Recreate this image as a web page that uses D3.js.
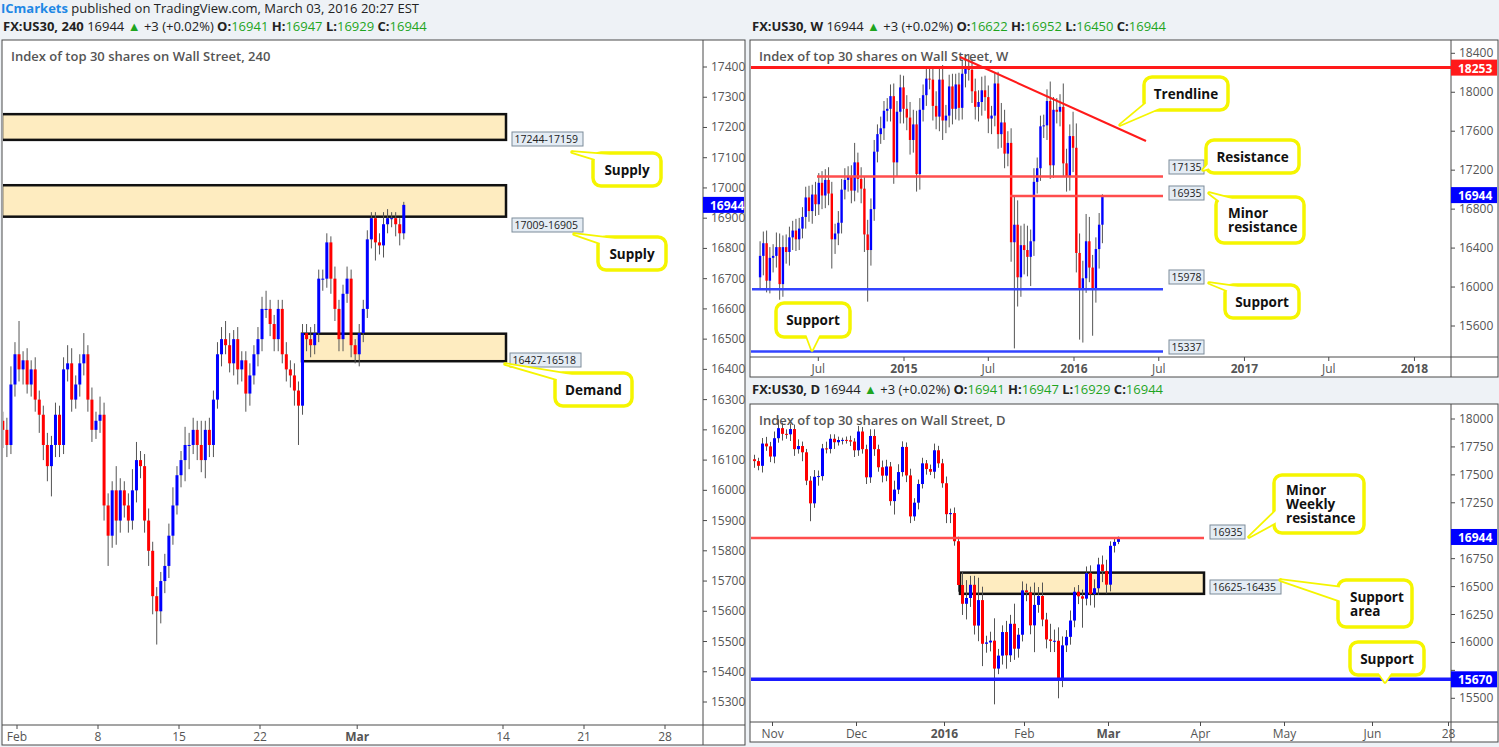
<!DOCTYPE html>
<html><head><meta charset="utf-8">
<script src="https://cdn.jsdelivr.net/npm/d3@7"></script>
<style>
body{margin:0;background:#eef2f6;font-family:"Open Sans","Liberation Sans",sans-serif;}
text{font-family:"Open Sans","Liberation Sans",sans-serif;}
</style></head><body>
<script>
// ---------- Data ----------
// 4h closes, Jan 29 .. Mar 3 (4 bars per day)
var h4Close = [16200,16150,16350,16450, 16400,16430,16350,16400, 16300,16250,16150,16080,
  16150,16250,16150,16400, 16420,16300,16350,16420, 16450,16300,16200,16230,
  16250,15950,15850,16000, 15900,16000,15950,15900, 16000,16100,16080,15900,
  15800,15650,15600,15700, 15750,15850,15950,16050, 16100,16150,16150,16200,
  16150,16100,16200,16150, 16300,16450,16500,16480, 16420,16500,16400,16430,
  16320,16380,16450,16500, 16600,16600,16550,16500, 16600,16450,16400,16380,
  16330,16280,16520,16500, 16480,16520,16700,16700, 16820,16700,16600,16500,
  16650,16700,16480,16450, 16520,16600,16830,16900, 16820,16810,16880,16900,
  16900,16880,16850,16944];
var h4Up = [30,40,60,40, 110,30,40,30, 40,30,30,40, 30,40,30,40, 60,50,30,30, 70,30,40,30,
  60,40,40,30, 80,40,30,40, 70,60,30,40, 40,30,30,30, 40,40,60,30, 30,60,40,40,
  30,80,30,40, 30,40,40,60, 40,30,40,30, 30,40,30,40, 40,60,30,30, 30,30,40,30,
  40,30,30,30, 40,30,30,30, 30,20,40,30, 30,40,30,20, 30,30,30,20, 20,30,40,30, 20,20,20,10];
var h4Dn = [60,40,30,40, 40,50,30,40, 40,60,50,50, 100,40,40,30, 40,40,30,40, 40,40,40,30,
  40,50,100,40, 80,40,40,40, 30,40,40,40, 50,60,110,40, 40,40,30,30, 40,70,80,30,
  50,40,60,40, 40,30,40,30, 30,40,50,40, 60,40,30,40, 40,30,40,40, 40,30,40,40,
  50,130,30,40, 40,30,30,40, 30,50,40,40, 40,30,40,30, 40,30,30,30, 60,30,40,30, 30,40,40,20];
var h4Start = 16230;

// weekly closes, week of Feb 24 2014 .. Feb 29 2016
var wkClose = [16320,16450,16065,16300,16320,16410,16030,16410,16360,16510,16580,16490,16600,16720,
  16920,16780,16950,16850,17070,16940,17100,16960,16490,16550,16660,17000,17100,17140,16990,17280,
  17110,17010,16540,16380,16800,17390,17570,17630,17810,17830,17960,17280,17800,18050,17830,
  17740,17510,17670,17160,17820,17970,18140,18130,17860,17750,18130,17710,17760,18060,17830,18080,
  17840,18190,18270,18230,18010,17850,17900,18020,17950,17730,17760,18090,17570,17690,17370,17480,
  16460,16640,16100,16430,16380,16310,16470,17080,17220,17650,17660,17910,17250,17820,17800,17850,
  17270,17130,17550,17430,16350,15990,16090,16470,16200,15970,16390,16640,16944];
var wkUp = [150,120,130,110,120,150,140,120,130,110,100,120,110,100,110,120,100,130,100,120,110,130,120,
  100,120,110,120,100,110,200,100,120,120,150,110,120,100,120,100,110,120,130,110,130,120,
  140,160,150,140,120,110,100,120,110,150,120,150,110,120,130,110,120,140,100,120,110,130,120,140,
  150,120,100,110,120,200,130,120,150,300,250,200,220,250,120,140,110,110,110,120,200,130,120,
  130,240,150,120,250,250,200,180,280,250,130,120,120,8];
var wkDn = [130,200,120,130,150,120,160,130,120,140,130,120,110,100,120,110,130,120,110,140,130,120,300,
  150,120,110,100,120,130,110,140,150,180,530,160,120,110,100,120,110,130,220,150,120,150,
  130,150,130,180,160,120,110,100,150,130,150,200,130,120,160,110,130,120,140,110,120,130,150,140,
  140,150,160,110,150,140,150,130,200,1090,300,200,250,200,300,150,120,130,120,150,140,130,
  120,150,140,150,140,250,200,530,560,150,150,470,130,200,190];
var wkStart = 16100;

// daily closes, Oct 26 2015 .. Mar 3 2016 (weekdays, no Dec 25 / Jan 1)
var dyClose = [17623,17581,17780,17755,17664,
  17828,17918,17867,17863,17910,17730,17758,17702,17448,17245,17483,17489,17737,17732,17823,
  17792,17812,17813,17810,17798,17720,
  17888,17730,17478,17848,17730,17568,17493,17575,17265,17368,17525,17750,17495,17128,
  17251,17418,17603,17552,17528,17720,17603,17425,
  17148,17158,16906,16514,16346,16398,16516,16151,16379,15988,16000,16016,15766,15882,16093,
  15885,16167,15944,16069,16466,
  16449,16153,16336,16416,16205,16027,16014,16015,15660,15974,16050,16196,16454,16413,16392,
  16620,16432,16485,16698,16640,16517,16865,16900,16944];
var dyUp = [40,30,50,60,40, 60,80,50,40,50,40,60,40,30,40,60,50,40,60,40, 40,30,20,30,40,30,
  50,40,40,60,60,40,60,60,40,80,70,50,40,60, 40,40,50,30,40,60,40,40,
  60,40,50,40,120,160,80,80,200,120,60,80,200,60,60, 100,80,180,60,80,
  60,50,200,80,120,60,140,100,120,80,60,90,40,60,60, 60,70,80,60,80,100,40,30,3];
var dyDn = [60,40,60,40,50, 60,40,60,40,60,60,40,80,40,160,40,80,40,40,40, 60,30,40,30,40,60,
  50,40,60,50,60,40,60,50,40,120,40,40,60,60, 40,60,40,50,30,60,40,40,
  80,80,40,60,100,140,80,80,140,200,80,80,320,50,80, 120,60,100,80,60,
  80,80,240,70,60,80,100,100,160,60,60,70,60,70,260, 60,100,120,60,100,80,60,60,20];
var dyStart = 17640;

// ---------- Layout ----------
var W = 1499, H = 747;
var svg = d3.select("body").append("svg").attr("width", W).attr("height", H)
  .style("display", "block");
svg.append("rect").attr("width", W).attr("height", H).attr("fill", "#eef2f6");

var upCol = "#0000ff", dnCol = "#ff0000", wickCol = "#555";

// header lines
function header(x, y, parts) {
  var t = svg.append("text").attr("x", x).attr("y", y).attr("font-size", 13);
  parts.forEach(function(p) {
    t.append("tspan").text(p[0]).attr("fill", p[1]).attr("font-weight", p[2] ? "bold" : "normal");
  });
}
header(1, 13, [["ICmarkets", "#1e88e5", true], [" published on TradingView.com, March 03, 2016 20:27 EST", "#222"]]);
function quote(x, y, tf, o, h, l, c) {
  header(x, y, [["FX:US30, " + tf, "#222", true], ["  16944 ", "#222"], ["\u25B2", "#1fa51f"], [" +3 (+0.02%) ", "#222"],
    ["O:", "#222", true], [o, "#1fa51f"], [" H:", "#222", true], [h, "#1fa51f"],
    [" L:", "#222", true], [l, "#1fa51f"], [" C:", "#222", true], [c, "#1fa51f"]]);
}
quote(3, 31, "240", "16941", "16947", "16929", "16944");
quote(752, 31, "W", "16622", "16952", "16450", "16944");
quote(752, 394, "D", "16941", "16947", "16929", "16944");

// panel frame + axes
function panel(p) {
  svg.append("rect").attr("x", p.x0).attr("y", p.y0).attr("width", p.x1 - p.x0).attr("height", p.y1 - p.y0)
    .attr("fill", "#fff").attr("stroke", "#4a4a4a");
  var g = svg.append("g");
  g.append("line").attr("x1", p.ax).attr("x2", p.ax).attr("y1", p.y0).attr("y2", p.y1).attr("stroke", "#4a4a4a");
  g.append("line").attr("x1", p.x0).attr("x2", p.x1).attr("y1", p.pb).attr("y2", p.pb).attr("stroke", "#4a4a4a");
  p.yTicks.forEach(function(v) {
    var y = p.y(v);
    g.append("line").attr("x1", p.ax).attr("x2", p.ax + 4).attr("y1", y).attr("y2", y).attr("stroke", "#4a4a4a");
    // labels hidden behind the coloured price tags
    var hidden = p.tags.some(function(t) { return Math.abs(p.y(t) - y) < 13; });
    if (!hidden) g.append("text").attr("x", p.ax + 8).attr("y", y + 4).attr("font-size", 12).attr("fill", "#555").text(v);
  });
  p.xTicks.forEach(function(t) {
    g.append("line").attr("x1", t[0]).attr("x2", t[0]).attr("y1", p.pb).attr("y2", p.pb + 4).attr("stroke", "#4a4a4a");
    g.append("text").attr("x", t[0]).attr("y", p.pb + 16).attr("font-size", 12).attr("fill", "#555")
      .attr("text-anchor", "middle").attr("font-weight", t[2] ? "bold" : "normal").text(t[1]);
  });
  svg.append("text").attr("x", p.x0 + 9).attr("y", p.y0 + 21).attr("font-size", 13).attr("font-weight", 600)
    .attr("fill", "#555").text(p.title);
  var clipId = "c" + p.x0 + "_" + p.y0;
  svg.append("clipPath").attr("id", clipId).append("rect").attr("x", p.x0 + 1).attr("y", p.y0 + 1)
    .attr("width", p.ax - p.x0 - 1).attr("height", p.pb - p.y0 - 1);
  p.plot = svg.append("g").attr("clip-path", "url(#" + clipId + ")");
  return p;
}

function candles(p, closes, ups, dns, start, xf, bw) {
  var prev = start;
  closes.forEach(function(c, i) {
    var o = prev, hi = Math.max(o, c) + ups[i], lo = Math.min(o, c) - dns[i];
    var x = xf(i), col = c >= o ? upCol : dnCol;
    p.plot.append("line").attr("x1", x).attr("x2", x).attr("y1", p.y(hi)).attr("y2", p.y(lo)).attr("stroke", wickCol);
    var y1 = p.y(Math.max(o, c)), y2 = p.y(Math.min(o, c));
    p.plot.append("rect").attr("x", x - bw / 2).attr("y", y1).attr("width", bw).attr("height", Math.max(1, y2 - y1))
      .attr("fill", col);
    prev = c;
  });
}

function zone(p, xa, xb, top, bot) {
  p.plot.append("rect").attr("x", xa).attr("y", p.y(top)).attr("width", xb - xa).attr("height", p.y(bot) - p.y(top))
    .attr("fill", "#feecc0").attr("stroke", "#111").attr("stroke-width", 2.5);
}
function hline(p, v, xa, xb, col, w) {
  p.plot.append("line").attr("x1", xa).attr("x2", xb).attr("y1", p.y(v)).attr("y2", p.y(v))
    .attr("stroke", col).attr("stroke-width", w);
}
function tag(x, y, txt) {
  var w = txt.length * 6.0 + 5;
  svg.append("rect").attr("x", x).attr("y", y - 7).attr("width", w).attr("height", 14)
    .attr("fill", "#e4ecf4").attr("stroke", "#7d8c9a");
  svg.append("text").attr("x", x + 2.5).attr("y", y + 4).attr("font-size", 10.5).attr("fill", "#222").text(txt);
}
function axisTag(p, v, col) {
  var y = p.y(v);
  svg.append("rect").attr("x", p.ax).attr("y", y - 8).attr("width", p.x1 - p.ax - 1).attr("height", 16).attr("fill", col);
  svg.append("text").attr("x", p.ax + 7).attr("y", y + 5).attr("font-size", 12).attr("font-weight", "bold")
    .attr("fill", "#fff").text(v);
}
function callout(x, y, w, h, tail, lines) {
  var g = svg.append("g");
  var tri = tail.map(function(d) { return d.join(","); }).join(" ");
  g.append("polygon").attr("points", tri).attr("fill", "#fff").attr("stroke", "#f5f500").attr("stroke-width", 3.5)
    .attr("stroke-linejoin", "round");
  g.append("rect").attr("x", x).attr("y", y).attr("width", w).attr("height", h).attr("rx", 8)
    .attr("fill", "#fff").attr("stroke", "#f5f500").attr("stroke-width", 3.5);
  g.append("polygon").attr("points", tri).attr("fill", "#fff");
  var lh = 14, y0 = y + h / 2 - (lines.length - 1) * lh / 2 + 5;
  lines.forEach(function(l, i) {
    g.append("text").attr("x", lines.length > 1 ? x + 12 : x + w / 2).attr("y", y0 + i * lh)
      .attr("text-anchor", lines.length > 1 ? "start" : "middle")
      .attr("font-size", 13.5).attr("font-weight", "bold").attr("fill", "#111").text(l);
  });
}

// ---------- 240 panel ----------
var xL = d3.scaleLinear().domain([0, 5]).range([17, 98]);   // trading-day index
var pL = {x0: 2, y0: 40, x1: 745, y1: 745, ax: 703, pb: 725, tags: [16944],
  title: "Index of top 30 shares on Wall Street, 240",
  y: d3.scaleLinear().domain([15300, 17400]).range([702, 67]),
  yTicks: d3.range(15300, 17401, 100)};
pL.xTicks = [[xL(0), "Feb"], [xL(5), "8"], [xL(10), "15"], [xL(15), "22"], [xL(21), "Mar", true],
  [xL(30), "14"], [xL(35), "21"], [xL(40), "28"]];
panel(pL);
zone(pL, 2, 506, 17244, 17159);
zone(pL, 2, 506, 17009, 16905);
zone(pL, 302, 506, 16518, 16427);
candles(pL, h4Close, h4Up, h4Dn, h4Start, function(i) { return xL(-1 + (i + 0.5) / 4); }, 3);
tag(512, 139, "17244-17159");
tag(512, 225, "17009-16905");
tag(510, 360, "16427-16518");
axisTag(pL, 16944, "#0000ff");
callout(593, 153, 68, 33, [[598, 160], [572, 152], [610, 155]], ["Supply"]);
callout(598, 237, 68, 33, [[603, 244], [574, 234], [615, 239]], ["Supply"]);
callout(555, 373, 77, 33, [[560, 380], [505, 364], [572, 375]], ["Demand"]);

// ---------- weekly panel ----------
var xW = d3.scaleTime().domain([new Date(2015, 0, 1), new Date(2016, 0, 1)]).range([904, 1074]);
var pW = {x0: 750, y0: 40, x1: 1498, y1: 377, ax: 1451, pb: 357, tags: [18253, 16944],
  title: "Index of top 30 shares on Wall Street, W",
  y: d3.scaleLinear().domain([15600, 18400]).range([326, 53.3]),
  yTicks: d3.range(15600, 18401, 400)};
pW.xTicks = [[xW(new Date(2014, 6, 1)), "Jul"], [xW(new Date(2015, 0, 1)), "2015", true], [xW(new Date(2015, 6, 1)), "Jul"],
  [xW(new Date(2016, 0, 1)), "2016", true], [xW(new Date(2016, 6, 1)), "Jul"], [xW(new Date(2017, 0, 1)), "2017", true],
  [xW(new Date(2017, 6, 1)), "Jul"], [xW(new Date(2018, 0, 1)), "2018", true]];
panel(pW);
var wkFirst = new Date(2014, 1, 24);
candles(pW, wkClose, wkUp, wkDn, wkStart, function(i) {
  return xW(d3.timeDay.offset(wkFirst, i * 7 + 2)); }, 2.4);
hline(pW, 18253, 750, 1451, "#ff1a1a", 3);
hline(pW, 17135, 817, 1163, "#ff4d4d", 2.5);
hline(pW, 16935, 1010, 1163, "#ff4d4d", 2.5);
hline(pW, 15978, 752, 1163, "#3344ff", 2.5);
hline(pW, 15337, 751, 1163, "#3344ff", 2.5);
pW.plot.append("line").attr("x1", 960).attr("y1", 57).attr("x2", 1146).attr("y2", 141)
  .attr("stroke", "#ff1a1a").attr("stroke-width", 2);
tag(1169, 167, "17135");
tag(1169, 193, "16935");
tag(1169, 277, "15978");
tag(1169, 347, "15337");
axisTag(pW, 18253, "#ff1a1a");
axisTag(pW, 16944, "#0000ff");
callout(1144, 77, 84, 33, [[1150, 100], [1120, 125], [1162, 107]], ["Trendline"]);
callout(1206, 140, 93, 33, [[1210, 162], [1203, 170], [1210, 168]], ["Resistance"]);
callout(1216, 197, 88, 46, [[1222, 203], [1209, 193], [1236, 200]], ["Minor", "resistance"]);
callout(1225, 285, 74, 33, [[1231, 292], [1209, 283], [1245, 288]], ["Support"]);
callout(776, 303, 74, 34, [[806, 334], [812, 350], [820, 334]], ["Support"]);

// ---------- daily panel ----------
// weekday index from Oct 26 2015, skipping Dec 25 and Jan 1
var days = d3.timeDay.range(new Date(2015, 9, 26), new Date(2016, 6, 10)).filter(function(d) {
  var k = d.getDay(), s = d3.timeFormat("%m%d")(d);
  return k > 0 && k < 6 && s !== "1225" && s !== "0101";
});
var fmt = d3.timeFormat("%Y%m%d");
function dayIdx(dt) { var s = fmt(dt); return days.findIndex(function(d) { return fmt(d) >= s; }); }
var xD = d3.scaleLinear().domain([0, 1]).range([752.5, 756.5]);
var pD = {x0: 750, y0: 404, x1: 1498, y1: 742, ax: 1451, pb: 722, tags: [16944, 15670],
  title: "Index of top 30 shares on Wall Street, D",
  y: d3.scaleLinear().domain([15500, 18000]).range([698.3, 419]),
  yTicks: d3.range(15500, 18001, 250)};
pD.xTicks = [[new Date(2015, 10, 2), "Nov"], [new Date(2015, 11, 1), "Dec"], [new Date(2016, 0, 4), "2016", true],
  [new Date(2016, 1, 1), "Feb"], [new Date(2016, 2, 1), "Mar", true], [new Date(2016, 3, 1), "Apr"],
  [new Date(2016, 4, 2), "May"], [new Date(2016, 5, 1), "Jun"], [new Date(2016, 5, 28), "28"]]
  .map(function(t) { return [xD(dayIdx(t[0])), t[1], t[2]]; });
panel(pD);
zone(pD, 960, 1204, 16625, 16435);
candles(pD, dyClose, dyUp, dyDn, dyStart, function(i) { return xD(i) + 2; }, 3);
hline(pD, 16935, 750, 1204, "#ff4d4d", 2.5);
hline(pD, 15670, 750, 1451, "#1a1aff", 3.5);
tag(1210, 532, "16935");
tag(1210, 587, "16625-16435");
axisTag(pD, 16944, "#0000ff");
axisTag(pD, 15670, "#0000ff");
callout(1274, 475, 90, 58, [[1282, 505], [1249, 537], [1280, 520]], ["Minor", "Weekly", "resistance"]);
callout(1338, 580, 74, 47, [[1344, 588], [1280, 580], [1344, 602]], ["Support", "area"]);
callout(1350, 642, 74, 33, [[1378, 672], [1385, 682], [1392, 672]], ["Support"]);
</script>
</body></html>
